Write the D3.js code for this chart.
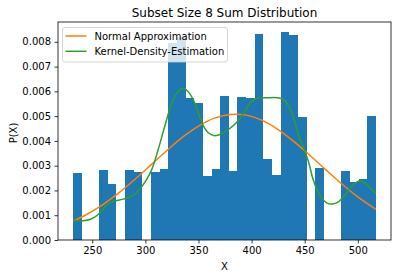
<!DOCTYPE html>
<html>
<head>
<meta charset="utf-8">
<script src="https://cdn.jsdelivr.net/npm/d3@7"></script>
<style>
  body { margin: 0; background: #fff; }
  text { font-family: "DejaVu Sans", sans-serif; fill: #000; }
</style>
</head>
<body>
<div id="chart"></div>
<script>
// histogram: 35 bins from 232 to 517, density values
var binStart = 232;
var binEnd = 517;
var binHeights = [
    0.00272, 0, 0, 0.00283, 0.00227, 0, 0.00283, 0.00275, 0, 0.00273,
    0.00287, 0.00794, 0.00818, 0.00572, 0.00553, 0.00260, 0.00287, 0.00583, 0.00279, 0.00579,
    0.00575, 0.00830, 0.00328, 0.00263, 0.00838, 0.00827, 0.00498, 0, 0.00291, 0,
    0, 0.00279, 0.00235, 0.00247, 0.00502
];

// normal approximation curve (read points)
var normalX = [232, 245, 260, 275, 290, 305, 320, 335, 350, 365, 380, 395, 410, 425, 440, 455, 470, 485, 500, 517];
var normalY = [0.00076, 0.00104, 0.00143, 0.00190, 0.00244, 0.00302, 0.00360, 0.00415, 0.00460, 0.00492,
    0.00507, 0.00504, 0.00483, 0.00446, 0.00397, 0.00341, 0.00283, 0.00226, 0.00174, 0.00124];

// kernel density estimate curve (read points)
var kdeX = [232, 241, 249, 257, 263, 269, 279, 288, 294, 301, 306, 312, 318, 325, 331, 336, 340, 345, 350, 354,
    359, 365, 372, 378, 387, 393, 399, 405, 415, 424, 430, 435, 440, 444, 449, 454, 458, 465, 471, 476,
    482, 488, 496, 502, 508, 515, 517];
var kdeY = [0.00080, 0.00078, 0.00085, 0.00108, 0.00140, 0.00155, 0.00165, 0.00179, 0.00202, 0.00243,
    0.00284, 0.00364, 0.00455, 0.00553, 0.00600, 0.00612, 0.00600, 0.00567, 0.00513, 0.00466,
    0.00434, 0.00421, 0.00429, 0.00445, 0.00479, 0.00515, 0.00556, 0.00572, 0.00574, 0.00574,
    0.00567, 0.00540, 0.00486, 0.00425, 0.00371, 0.00310, 0.00243, 0.00175, 0.00149, 0.00145,
    0.00155, 0.00182, 0.00223, 0.00239, 0.00225, 0.00196, 0.00189];

var xTicks = [250, 300, 350, 400, 450, 500];
var yTicks = [0, 0.001, 0.002, 0.003, 0.004, 0.005, 0.006, 0.007, 0.008];

var width = 398, height = 278;
var margin = {top: 22, right: 7, bottom: 38, left: 58};

var svg = d3.select("#chart").append("svg")
    .attr("width", width)
    .attr("height", height);

var pad = (binEnd - binStart) * 0.05;
var xScale = d3.scaleLinear()
    .domain([binStart - pad, binEnd + pad])
    .range([margin.left, width - margin.right]);

var yScale = d3.scaleLinear()
    .domain([0, d3.max(binHeights) * 1.05])
    .range([height - margin.bottom, margin.top]);

var binW = (binEnd - binStart) / binHeights.length;

// bars
svg.append("g")
    .selectAll("rect")
    .data(binHeights)
    .enter()
    .append("rect")
    .attr("x", function(d, i) { return xScale(binStart + i * binW); })
    .attr("width", function(d, i) { return xScale(binStart + (i + 1) * binW) - xScale(binStart + i * binW); })
    .attr("y", function(d) { return yScale(d); })
    .attr("height", function(d) { return yScale(0) - yScale(d); })
    .attr("fill", "#1f77b4")
    .attr("shape-rendering", "crispEdges");

var line = d3.line()
    .x(function(d) { return xScale(d[0]); })
    .y(function(d) { return yScale(d[1]); })
    .curve(d3.curveCatmullRom.alpha(0.5));

svg.append("path")
    .datum(d3.zip(normalX, normalY))
    .attr("d", line)
    .attr("fill", "none")
    .attr("stroke", "#ff7f0e")
    .attr("stroke-width", 1.5);

svg.append("path")
    .datum(d3.zip(kdeX, kdeY))
    .attr("d", line)
    .attr("fill", "none")
    .attr("stroke", "#2ca02c")
    .attr("stroke-width", 1.5);

// axes
var xAxis = d3.axisBottom(xScale).tickValues(xTicks).tickSize(3.5).tickPadding(3.5);
var yAxis = d3.axisLeft(yScale).tickValues(yTicks).tickFormat(d3.format(".3f")).tickSize(3.5).tickPadding(3.5);

var gx = svg.append("g")
    .attr("transform", "translate(0," + (height - margin.bottom) + ")")
    .call(xAxis);
var gy = svg.append("g")
    .attr("transform", "translate(" + margin.left + ",0)")
    .call(yAxis);

[gx, gy].forEach(function(g) {
    g.select(".domain").remove();
    g.selectAll("line").attr("stroke", "#000").attr("stroke-width", 0.8);
    g.selectAll("text").attr("font-size", "10px").attr("fill", "#000")
        .style("font-family", "DejaVu Sans");
});

// spines
svg.append("rect")
    .attr("x", margin.left)
    .attr("y", margin.top)
    .attr("width", width - margin.left - margin.right)
    .attr("height", height - margin.top - margin.bottom)
    .attr("fill", "none")
    .attr("stroke", "#000")
    .attr("stroke-width", 0.8);

// title and labels
var cx = (margin.left + width - margin.right) / 2;
svg.append("text")
    .attr("x", cx)
    .attr("y", 17)
    .attr("text-anchor", "middle")
    .attr("font-size", "12px")
    .text("Subset Size 8 Sum Distribution");

svg.append("text")
    .attr("x", cx)
    .attr("y", 270)
    .attr("text-anchor", "middle")
    .attr("font-size", "10px")
    .text("X");

svg.append("text")
    .attr("transform", "translate(17,133) rotate(-90)")
    .attr("text-anchor", "middle")
    .attr("font-size", "10px")
    .text("P(X)");

// legend
var legend = svg.append("g").attr("transform", "translate(62.5,27.5)");
legend.append("rect")
    .attr("width", 165)
    .attr("height", 34.5)
    .attr("rx", 2.5)
    .attr("fill", "#fff")
    .attr("fill-opacity", 0.8)
    .attr("stroke", "#ccc")
    .attr("stroke-width", 0.8);

var legendItems = [["Normal Approximation", "#ff7f0e"], ["Kernel-Density-Estimation", "#2ca02c"]];
legendItems.forEach(function(item, i) {
    var ly = 8.5 + i * 15.3;
    legend.append("line")
        .attr("x1", 3).attr("x2", 24)
        .attr("y1", ly).attr("y2", ly)
        .attr("stroke", item[1])
        .attr("stroke-width", 1.5);
    legend.append("text")
        .attr("x", 32)
        .attr("y", ly + 3.6)
        .attr("font-size", "10px")
        .text(item[0]);
});
</script>
</body>
</html>
